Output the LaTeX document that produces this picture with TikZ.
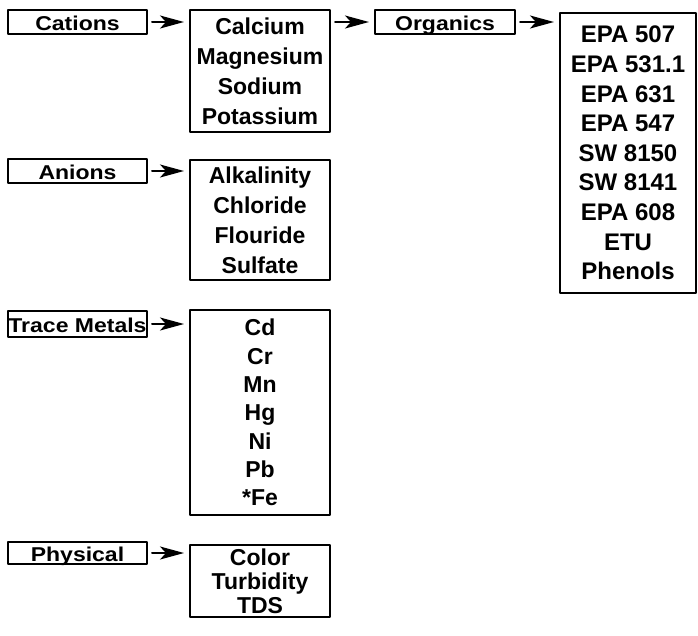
\documentclass[tikz,border=0pt]{standalone}
\usepackage{fontspec}
\setmainfont{Liberation Sans}
\newfontfamily\lblfont{Liberation Sans}[FakeStretch=1.15]
\usetikzlibrary{arrows.meta}
\begin{document}
\begin{tikzpicture}[x=1pt,y=-1pt,line join=round,line cap=round,
		font=\fontsize{23}{30}\selectfont\bfseries,
		lbl/.style={draw,line width=2pt,minimum width=139pt,minimum height=24pt,inner sep=0pt,text height=17pt,text depth=0pt,font=\lblfont\fontsize{20}{24}\selectfont\bfseries},
		lst/.style={draw,line width=2pt,minimum width=140pt,align=center,inner sep=0pt,font=\fontsize{23}{#1}\selectfont\bfseries},
		arr/.style={line width=2pt,-{Stealth[length=24pt,width=13pt,inset=6pt]},shorten <=4pt,shorten >=5pt}]
		\useasboundingbox (0,0) rectangle (698,635);
		\node[lbl] (cat) at (77.5,22) {Cations};
		\node[lbl] (ani) at (77.5,171) {Anions};
		\node[lbl,minimum height=26pt] (tra) at (77.5,324) {Trace Metals};
		\node[lbl,minimum height=22pt] (phy) at (77.5,553) {Physical};
		\node[lst=30,minimum height=122pt] (calc) at (260,71) {Calcium\\Magnesium\\Sodium\\Potassium};
		\node[lst=30,minimum height=120pt] (alk) at (260,220) {Alkalinity\\Chloride\\Flouride\\Sulfate};
		\node[lst=28.3,minimum height=205pt] (met) at (260,412.5) {Cd\\Cr\\Mn\\Hg\\Ni\\Pb\\*Fe};
		\node[lst=24,minimum height=72pt] (col) at (260,581) {Color\\Turbidity\\TDS};
		\node[lbl,minimum width=140pt] (org) at (445,22) {Organics};
		\node[lst=29.6,minimum width=136pt,minimum height=280pt,font=\fontsize{24}{29.6}\selectfont\bfseries] (epa) at (628,153) {EPA 507\\EPA 531.1\\EPA 631\\EPA 547\\SW 8150\\SW 8141\\EPA 608\\ETU\\Phenols};
		\draw[arr] (cat.east) -- (cat.east -| calc.west);
		\draw[arr] (ani.east) -- (ani.east -| alk.west);
		\draw[arr] (tra.east) -- (tra.east -| met.west);
		\draw[arr] (phy.east) -- (phy.east -| col.west);
		\draw[arr] (org.west -| calc.east) -- (org.west);
		\draw[arr] (org.east) -- (org.east -| epa.west);
	\end{tikzpicture}
\end{document}
